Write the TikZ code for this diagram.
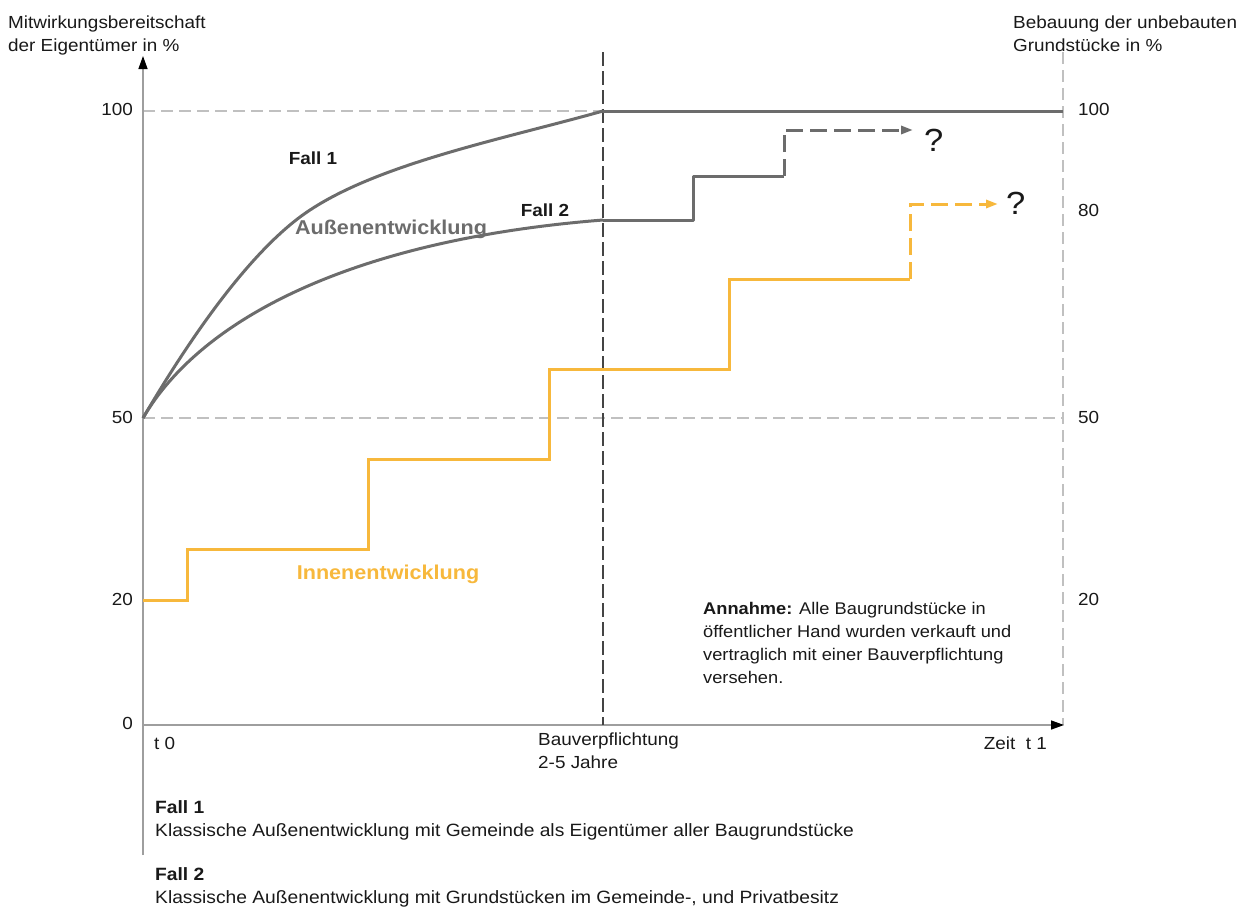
\documentclass[tikz,border=0pt]{standalone}
\usepackage{fontspec}
\setmainfont{Liberation Sans}[FakeStretch=1.08]
\usetikzlibrary{arrows.meta}
\definecolor{curvegray}{RGB}{108,108,108}
\definecolor{orangeline}{RGB}{247,184,60}
\definecolor{gridgray}{RGB}{192,192,192}
\definecolor{axisgray}{RGB}{158,158,158}
\definecolor{markgray}{RGB}{68,68,68}
\definecolor{textblack}{RGB}{25,25,25}
\begin{document}
\begin{tikzpicture}[x=1pt,y=-1pt,
  txt/.style={inner sep=0pt,text=textblack,font=\fontsize{17.5}{23}\selectfont},
  smalltxt/.style={inner sep=0pt,text=textblack,font=\fontsize{16.9}{23}\selectfont},
  legendtxt/.style={inner sep=0pt,text=textblack,font=\fontsize{17.8}{23}\selectfont},
  boldtxt/.style={inner sep=0pt,text=textblack,font=\fontsize{17.5}{23}\selectfont\bfseries},
  qmark/.style={inner sep=0pt,text=textblack,font=\fontsize{32}{36}\selectfont},
  grid line/.style={gridgray,line width=1.4pt,dash pattern=on 12pt off 6pt},
  axis line/.style={axisgray,line width=1.4pt},
  curve/.style={curvegray,line width=3pt,line join=round},
  inner/.style={orangeline,line width=3pt,line join=miter},
  future/.style={dash pattern=on 17pt off 7pt},
  axis tip/.style={-{Triangle[length=13pt,width=9pt,color=black]}},
  line tip/.style={-{Triangle[length=12pt,width=8pt]}}
]
\useasboundingbox (0,0) rectangle (1249,908);

% reference points of the chart
\coordinate (o) at (143,725);
\coordinate (ytop) at (143,56);
\coordinate (ybot) at (143,855);
\coordinate (xend) at (1064,725);
\coordinate (rtop) at (1063,52);
\coordinate (g100l) at (143,111);
\coordinate (g100r) at (1063,111);
\coordinate (g50l) at (143,418);
\coordinate (g50r) at (1063,418);
\coordinate (btop) at (603,52);
\coordinate (bbot) at (603,725);

% grid lines
\draw[grid line] (g100l) -- (g100r);
\draw[grid line] (g50l) -- (g50r);
\draw[grid line] (rtop) -- (1063,725);

% axes
\draw[axis line] (ybot) -- (o);
\draw[axis line,axis tip] (o) -- (ytop);
\draw[axis line,axis tip] (o) -- (xend);

% deadline of the building obligation
\draw[markgray,line width=2pt,dash pattern=on 14pt off 5pt] (btop) -- (bbot);

% case 1: greenfield, municipality owns all plots
\coordinate (f1a) at (603,111);
\draw[curve] (g50l) .. controls (180,355) and (240,262) .. (300,217)
                    .. controls (370,165) and (500,140) .. (f1a);
\draw[curve] (f1a) -- (g100r);

% case 2: greenfield, mixed ownership
\coordinate (f2a) at (603,220);
\coordinate (f2b) at (693,220);
\coordinate (f2c) at (693,176);
\coordinate (f2d) at (784,176);
\coordinate (f2e) at (784,130);
\coordinate (f2f) at (913,130);
\draw[curve] (g50l) .. controls (200,320) and (350,240) .. (f2a);
\draw[curve] (f2a) -- (f2b) -- (f2c) -- (f2d);
\draw[curve,future,line tip,line join=miter] (f2d) -- (f2e) -- (f2f);
\node[qmark,anchor=west] (q1) at (924,140) {?};

% inner development
\coordinate (i0) at (143,600);
\coordinate (i1) at (187,600);
\coordinate (i2) at (187,549);
\coordinate (i3) at (368,549);
\coordinate (i4) at (368,459);
\coordinate (i5) at (549,459);
\coordinate (i6) at (549,369);
\coordinate (i7) at (729,369);
\coordinate (i8) at (729,279);
\coordinate (i9) at (910,279);
\coordinate (i10) at (910,204);
\coordinate (i11) at (998,204);
\draw[inner] (i0) -- (i1) -- (i2) -- (i3) -- (i4) -- (i5) -- (i6) -- (i7) -- (i8) -- (i9);
\draw[inner,future,line tip] (i9) -- (i10) -- (i11);
\node[qmark,anchor=west] (q2) at (1006,203) {?};

% axis titles
\node[txt,anchor=north west,align=left] (ltitle) at (8,16) {Mitwirkungsbereitschaft\\der Eigentümer in \%};
\node[txt,anchor=north west,align=left] (rtitle) at (1013,16) {Bebauung der unbebauten\\Grundstücke in \%};

% left scale
\node[txt,anchor=east] (l100) at (133,109) {100};
\node[txt,anchor=east] (l50) at (133,417) {50};
\node[txt,anchor=east] (l20) at (133,599) {20};
\node[txt,anchor=east] (l0) at (133,723) {0};

% right scale
\node[txt,anchor=west] (r100) at (1078,109) {100};
\node[txt,anchor=west] (r80) at (1078,210) {80};
\node[txt,anchor=west] (r50) at (1078,417) {50};
\node[txt,anchor=west] (r20) at (1078,599) {20};

% curve labels
\node[boldtxt] (fall1) at (313,158) {Fall 1};
\node[boldtxt] (fall2) at (545,210) {Fall 2};
\node[inner sep=0pt,text=curvegray,font=\fontsize{20}{24}\selectfont\bfseries] (aussen) at (391,229) {Außenentwicklung};
\node[inner sep=0pt,text=orangeline,font=\fontsize{20}{24}\selectfont\bfseries] (innen) at (388,574) {Innenentwicklung};

% time axis labels
\node[txt,anchor=west] (t0) at (154,743) {t 0};
\node[txt,anchor=north west,align=left] (bau) at (538,733) {Bauverpflichtung\\2-5 Jahre};
\node[txt,anchor=east] (t1) at (1047,743) {Zeit\ \ t 1};

% assumption
\node[smalltxt,anchor=north west,align=left] (annahme) at (703,602) {\textbf{Annahme:} Alle Baugrundstücke in\\öffentlicher Hand wurden verkauft und\\vertraglich mit einer Bauverpflichtung\\versehen.};

% legend
\node[legendtxt,anchor=north west,align=left] (leg1) at (155,800) {\textbf{Fall 1}\\Klassische Außenentwicklung mit Gemeinde als Eigentümer aller Baugrundstücke};
\node[legendtxt,anchor=north west,align=left] (leg2) at (155,867) {\textbf{Fall 2}\\Klassische Außenentwicklung mit Grundstücken im Gemeinde-, und Privatbesitz};
\end{tikzpicture}
\end{document}
